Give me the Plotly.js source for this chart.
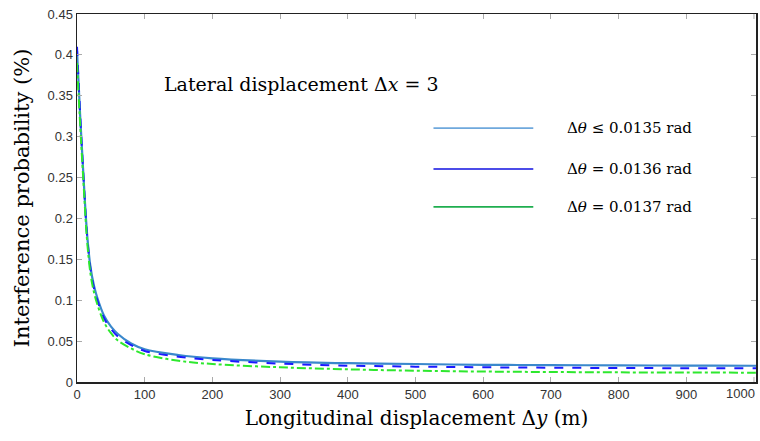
<!DOCTYPE html>
<html><head><meta charset="utf-8">
<script src="https://cdn.plot.ly/plotly-3.0.1.min.js"></script>
<style>body{margin:0;background:#fff}#c{width:760px;height:441px}</style>
</head><body><div id="c"></div>
<script>
const xs = [0, 5, 10, 15, 20, 25, 30, 40, 50, 60, 80, 100, 150, 200, 300, 400, 500, 600, 700, 800, 900, 1000, 1003];
const ySolid  = [0.405, 0.32, 0.245, 0.18, 0.14, 0.118, 0.103, 0.081, 0.068, 0.059, 0.047, 0.040, 0.033, 0.029, 0.025, 0.023, 0.022, 0.021, 0.0207, 0.0203, 0.0201, 0.0199, 0.0199];
const yDash   = [0.41, 0.322, 0.245, 0.178, 0.138, 0.115, 0.1, 0.078, 0.065, 0.056, 0.045, 0.038, 0.031, 0.027, 0.0225, 0.020, 0.0188, 0.018, 0.0175, 0.0171, 0.0169, 0.0167, 0.0167];
const yDashDot= [0.39, 0.31, 0.238, 0.172, 0.132, 0.110, 0.095, 0.073, 0.060, 0.051, 0.041, 0.034, 0.026, 0.022, 0.018, 0.0155, 0.0138, 0.0128, 0.0122, 0.0118, 0.0116, 0.0114, 0.0114];
const xTicks = [0, 100, 200, 300, 400, 500, 600, 700, 800, 900];
const lastTick = 1000;
const legendLabels = ['Δ<i>θ</i> ≤ 0.0135 rad', 'Δ<i>θ</i> = 0.0136 rad', 'Δ<i>θ</i> = 0.0137 rad'];
const legendColors = ['#6fa8dc', '#1010e0', '#1fae4f'];
const legendY = [0.690, 0.579, 0.476];
const serif = 'DejaVu Serif';
const sans = 'Liberation Sans';

const traces = [
  {x: xs, y: ySolid, mode: 'lines', line: {color: '#3a88cc', width: 2.2, shape: 'spline'}},
  {x: xs, y: yDash, mode: 'lines', line: {color: '#1a1aff', width: 2, dash: 'dash', shape: 'spline'}},
  {x: xs, y: yDashDot, mode: 'lines', line: {color: '#2ee82e', width: 2, dash: 'dashdot', shape: 'spline'}}
];

const shapes = legendY.map((y, i) => ({type: 'line', xref: 'paper', yref: 'paper', x0: 0.525, x1: 0.672, y0: y, y1: y, line: {color: legendColors[i], width: 1.6}}));
// tick marks for the last x tick (bottom and top)
shapes.push({type: 'line', xref: 'x', yref: 'paper', x0: lastTick, x1: lastTick, y0: 0, y1: 0.0136, line: {color: '#aaa', width: 1}});
shapes.push({type: 'line', xref: 'x', yref: 'paper', x0: lastTick, x1: lastTick, y0: 1, y1: 0.9864, line: {color: '#aaa', width: 1}});
const annotations = legendLabels.map((t, i) => ({xref: 'paper', yref: 'paper', x: 0.718, y: legendY[i], xanchor: 'left', yanchor: 'middle', text: t, showarrow: false, font: {family: serif, size: 15, color: '#000'}}));
annotations.push({xref: 'paper', yref: 'paper', x: 0.125, y: 0.81, xanchor: 'left', yanchor: 'middle', text: 'Lateral displacement Δ<i>x</i> = 3', showarrow: false, font: {family: serif, size: 19, color: '#000'}});
annotations.push({xref: 'x', yref: 'paper', x: lastTick, y: 0, xanchor: 'right', yanchor: 'top', yshift: -2, xshift: 3, text: String(lastTick), showarrow: false, font: {family: sans, size: 13, color: '#333'}});

const layout = {
  width: 760, height: 441,
  margin: {l: 77, r: 4, t: 14, b: 59},
  paper_bgcolor: '#fff', plot_bgcolor: '#fff',
  showlegend: false,
  xaxis: {range: [0, 1003], tickvals: xTicks, ticks: 'inside', ticklen: 5, tickcolor: '#aaa', showgrid: false, zeroline: false,
    showline: true, mirror: 'ticks', linecolor: '#222', linewidth: 1.5,
    tickfont: {family: sans, size: 13, color: '#333'},
    title: {text: 'Longitudinal displacement Δ<i>y</i> (m)', font: {family: serif, size: 20, color: '#000'}, standoff: 10}},
  yaxis: {range: [0, 0.45], dtick: 0.05, ticks: 'inside', ticklen: 5, tickcolor: '#aaa', showgrid: false, zeroline: false,
    showline: true, mirror: 'ticks', linecolor: '#222', linewidth: 1.5,
    tickfont: {family: sans, size: 13, color: '#333'},
    title: {text: 'Interference probability (%)', font: {family: serif, size: 21, color: '#000'}, standoff: 12}},
  shapes: shapes,
  annotations: annotations
};
Plotly.newPlot('c', traces, layout, {displayModeBar: false, staticPlot: true});
</script></body></html>
